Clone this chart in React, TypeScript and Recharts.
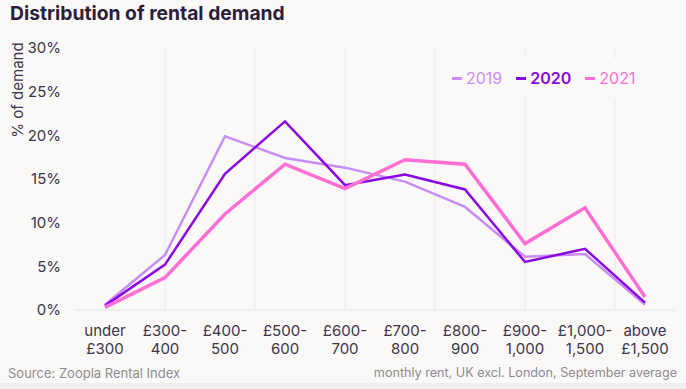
import { LineChart, Line, XAxis, YAxis, CartesianGrid } from "recharts";

// rent bands, "\n" splits the two label lines
const categories = [
  "under\n£300",
  "£300-\n400",
  "£400-\n500",
  "£500-\n600",
  "£600-\n700",
  "£700-\n800",
  "£800-\n900",
  "£900-\n1,000",
  "£1,000-\n1,500",
  "above\n£1,500",
];

const demand2019 = [0.6, 6.3, 19.9, 17.4, 16.3, 14.7, 11.8, 6.1, 6.4, 0.6];
const demand2020 = [0.5, 5.2, 15.6, 21.6, 14.3, 15.5, 13.8, 5.5, 7.0, 0.85];
const demand2021 = [0.3, 3.7, 11.0, 16.7, 13.9, 17.2, 16.7, 7.6, 11.7, 1.5];

const yTicks = [0, 5, 10, 15, 20, 25, 30];
const gridX = [1, 2.5, 4, 5.5, 7, 8.5];

const series = [
  { key: "y2019", name: "2019", color: "#c98df6", width: 2.5, bold: false },
  { key: "y2020", name: "2020", color: "#8a06e2", width: 2.5, bold: true },
  { key: "y2021", name: "2021", color: "#ff6fd3", width: 3.5, bold: false },
];

const data = categories.map((c, i) => ({
  idx: i,
  label: c,
  y2019: demand2019[i],
  y2020: demand2020[i],
  y2021: demand2021[i],
}));

const FONT = "Inter, 'Open Sans', sans-serif";
const BG = "#faf9f8";
const TEXT = "#3d3447";

function XTick(props: any) {
  const { x, y, payload } = props;
  const lines = categories[payload.value].split("\n");
  return (
    <text x={x} y={y} textAnchor="middle" fill={TEXT} fontSize={15} fontFamily={FONT}>
      {lines.map((l, i) => (
        <tspan key={i} x={x} dy={i === 0 ? 17.5 : 18}>
          {l}
        </tspan>
      ))}
    </text>
  );
}

export default function App() {
  return (
    <div
      style={{
        position: "fixed",
        left: 0,
        top: 0,
        width: 686,
        height: 389,
        background: BG,
        fontFamily: FONT,
        overflow: "hidden",
      }}
    >
      <div
        style={{
          position: "absolute",
          left: 10,
          top: 1,
          fontSize: 19.3,
          fontWeight: 700,
          color: "#2b1d3c",
        }}
      >
        Distribution of rental demand
      </div>
      <LineChart
        width={686}
        height={389}
        data={data}
        margin={{ top: 48, right: 11, left: 15, bottom: 29 }}
      >
        <CartesianGrid
          vertical={true}
          horizontal={false}
          verticalValues={gridX}
          stroke="#ebe9e9"
        />
        <XAxis
          dataKey="idx"
          type="number"
          domain={[-0.5, 9.5]}
          ticks={categories.map((_, i) => i)}
          interval={0}
          height={50}
          tick={<XTick />}
          tickLine={false}
          axisLine={{ stroke: "#e4e2e2" }}
        />
        <YAxis
          domain={[0, 30]}
          ticks={yTicks}
          width={60}
          tickLine={false}
          axisLine={false}
          tickMargin={8}
          tickFormatter={(v: number) => `${v}%`}
          tick={{ fill: TEXT, fontSize: 15, fontFamily: FONT }}
        />
        {series.map(s => (
          <Line
            key={s.key}
            dataKey={s.key}
            name={s.name}
            stroke={s.color}
            strokeWidth={s.width}
            dot={false}
            activeDot={false}
            isAnimationActive={false}
            strokeLinejoin="miter"
          />
        ))}
      </LineChart>
      <div
        style={{
          position: "absolute",
          left: 17,
          top: 90,
          transform: "translate(-50%, -50%) rotate(-90deg)",
          fontSize: 15,
          color: TEXT,
          whiteSpace: "nowrap",
        }}
      >
        % of demand
      </div>
      <div
        style={{
          position: "absolute",
          left: 445,
          top: 58,
          width: 230,
          height: 40,
          background: BG,
          display: "flex",
          alignItems: "center",
          gap: 14,
          paddingLeft: 7,
        }}
      >
        {series.map(s => (
          <div key={s.key} style={{ display: "flex", alignItems: "center", gap: 4 }}>
            <span style={{ width: 10, height: 3, background: s.color, display: "inline-block" }} />
            <span style={{ color: s.color, fontSize: 16, fontWeight: s.bold ? 600 : 400 }}>
              {s.name}
            </span>
          </div>
        ))}
      </div>
      <div
        style={{
          position: "absolute",
          left: 8,
          top: 365,
          fontSize: 13,
          color: "#8f8a93",
        }}
      >
        Source: Zoopla Rental Index
      </div>
      <div
        style={{
          position: "absolute",
          right: 9,
          top: 365,
          fontSize: 12.6,
          color: "#8f8a93",
        }}
      >
        monthly rent, UK excl. London, September average
      </div>
      <div
        style={{
          position: "absolute",
          left: 0,
          top: 383,
          width: 686,
          height: 6,
          background: "#efeeee",
        }}
      />
    </div>
  );
}
